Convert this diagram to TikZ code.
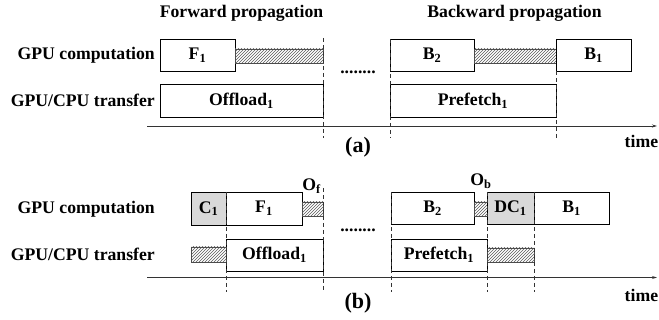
\documentclass[tikz,border=0pt]{standalone}
\usepackage{fontspec}
\setmainfont{Liberation Serif}
\usetikzlibrary{patterns,arrows.meta}
\begin{document}
\begin{tikzpicture}[x=1pt,y=-1pt,
  every node/.style={font=\fontsize{17.7}{20}\selectfont\bfseries, inner sep=0pt},
  box/.style={draw=black, line width=0.8pt, fill=white},
  graybox/.style={box, fill=black!15},
  hatch/.style={draw=black!70, line width=0.6pt, pattern=north east lines, pattern color=black!65},
  guide/.style={draw=black!80, line width=0.8pt, dash pattern=on 4pt off 3pt},
  axis/.style={draw=black!80, line width=0.8pt, -{Stealth[length=5pt,width=3pt]}},
  lab/.style={anchor=base east},
  tag/.style={font=\fontsize{22}{24}\selectfont\bfseries}
]
\useasboundingbox (0,0) rectangle (659,320);

% ---------------- panel (a) ----------------
\node[anchor=base] (fwd) at (241.5,18) {Forward propagation};
\node[anchor=base] (bwd) at (514.5,18) {Backward propagation};
\node[lab] (gpua) at (155,59.5) {GPU computation};
\node[lab] (xfera) at (155,107) {GPU/CPU transfer};

\coordinate (ta0) at (147,126);
\coordinate (ta1) at (657,126);
\draw[axis] (ta0) -- (ta1);

\node[box, minimum width=75, minimum height=32] (F1a) at (197.5,55) {F\textsubscript{1}};
\node[hatch, minimum width=88, minimum height=14] (hA1) at (279,56) {};
\node[box, minimum width=163, minimum height=33] (Offa) at (241.5,100.5) {Offload\textsubscript{1}};
\node[box, minimum width=84, minimum height=32] (B2a) at (432,55) {B\textsubscript{2}};
\node[hatch, minimum width=82, minimum height=14] (hA2) at (515,56) {};
\node[box, minimum width=75, minimum height=32] (B1a) at (593.5,55) {B\textsubscript{1}};
\node[box, minimum width=166, minimum height=33] (Prea) at (473,100.5) {Prefetch\textsubscript{1}};

\coordinate (da1t) at (323,38);  \coordinate (da1b) at (323,138);
\coordinate (da2t) at (390,39);  \coordinate (da2b) at (390,138);
\coordinate (da3t) at (556,71);  \coordinate (da3b) at (556,138);
\draw[guide] (da1t) -- (da1b);
\draw[guide] (da2t) -- (da2b);
\draw[guide] (da3t) -- (da3b);

\node[anchor=base] (dotsa) at (358,74) {........};
\node[tag] (tga) at (358,147) {(a)};
\node[anchor=base west] (timea) at (624.5,147.5) {time};

% ---------------- panel (b) ----------------
\node[lab] (gpub) at (155,213.3) {GPU computation};
\node[lab] (xferb) at (155,260.7) {GPU/CPU transfer};

\coordinate (tb0) at (147,277.5);
\coordinate (tb1) at (657,277.5);
\draw[axis] (tb0) -- (tb1);

\node[graybox, minimum width=35, minimum height=33] (C1) at (208.5,208.5) {C\textsubscript{1}};
\node[box, minimum width=76, minimum height=33] (F1b) at (264,208.5) {F\textsubscript{1}};
\node[hatch, minimum width=21, minimum height=14] (hB1) at (312.5,209) {};
\node[box, minimum width=97, minimum height=32] (Offb) at (274.5,255) {Offload\textsubscript{1}};
\node[hatch, minimum width=35, minimum height=15] (hB2) at (208.5,254.5) {};
\node[anchor=base] (Of) at (311.5,190.5) {O\textsubscript{f}};

\node[box, minimum width=83, minimum height=32] (B2b) at (432.5,208) {B\textsubscript{2}};
\node[hatch, minimum width=13, minimum height=14] (hB3) at (480.5,209) {};
\node[graybox, minimum width=47, minimum height=32] (DC1) at (510.5,208) {DC\textsubscript{1}};
\node[box, minimum width=75, minimum height=32] (B1b) at (571.5,208) {B\textsubscript{1}};
\node[box, minimum width=96, minimum height=32] (Preb) at (439,255) {Prefetch\textsubscript{1}};
\node[hatch, minimum width=47, minimum height=14] (hB4) at (510.5,255) {};
\node[anchor=base] (Ob) at (481,185.5) {O\textsubscript{b}};

\coordinate (db1t) at (226,192); \coordinate (db1b) at (226,292);
\coordinate (db2t) at (323,188); \coordinate (db2b) at (323,292);
\coordinate (db3t) at (391,192); \coordinate (db3b) at (391,292);
\coordinate (db4t) at (487,192); \coordinate (db4b) at (487,292);
\coordinate (db5t) at (534,192); \coordinate (db5b) at (534,292);
\draw[guide] (db1t) -- (db1b);
\draw[guide] (db2t) -- (db2b);
\draw[guide] (db3t) -- (db3b);
\draw[guide] (db4t) -- (db4b);
\draw[guide] (db5t) -- (db5b);

\node[anchor=base] (dotsb) at (358,232) {........};
\node[tag] (tgb) at (358,303) {(b)};
\node[anchor=base west] (timeb) at (624.5,301.5) {time};
\end{tikzpicture}
\end{document}
